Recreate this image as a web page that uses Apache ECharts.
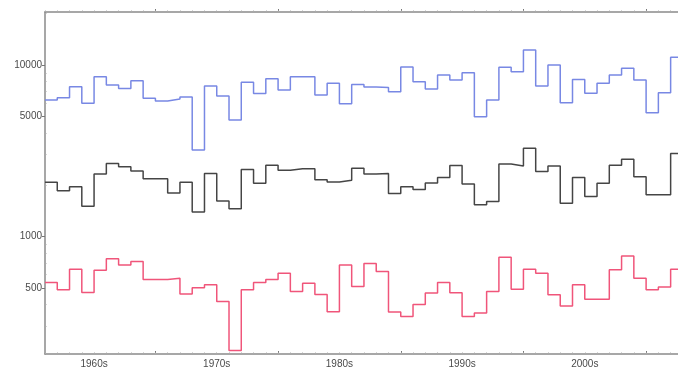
<!DOCTYPE html>
<html>
<head>
<meta charset="utf-8">
<script src="https://cdn.jsdelivr.net/npm/echarts@6/dist/echarts.min.js"></script>
<style>html,body{margin:0;padding:0;background:#fff}#c{width:678px;height:371px}</style>
</head>
<body>
<div id="c"></div>
<script>
const years = [1961,1962,1963,1964,1965,1966,1967,1968,1969,1970,1971,1972,1973,1974,1975,1976,1977,1978,1979,1980,1981,1982,1983,1984,1985,1986,1987,1988,1989,1990,1991,1992,1993,1994,1995,1996,1997,1998,1999,2000,2001,2002,2003,2004,2005,2006,2007,2008,2009,2010,2011,2012];
const blue = [6250,6450,7470,5980,8550,7650,7310,8100,6400,6170,6330,6510,3195,7545,6600,4780,7950,6820,8320,7145,8550,8550,6680,7820,5950,7700,7450,7400,6990,9730,7990,7260,8745,8175,9020,5000,6250,9700,9140,12230,7545,10000,6030,8250,6840,7820,8745,9570,8175,5270,6900,11090];
const black = [2070,1850,1950,1500,2310,2660,2550,2410,2170,2170,1790,2070,1390,2330,1610,1450,2460,2040,2600,2430,2480,2480,2140,2080,2130,2500,2310,2330,1780,1950,1880,2050,2210,2590,2020,1530,1600,2650,2580,3270,2390,2580,1560,2210,1710,2040,2600,2820,2230,1750,1750,3050];
const red = [538,488,644,470,635,741,682,713,561,561,570,462,502,522,417,216,488,539,561,610,477,533,459,364,682,511,694,624,362,341,401,467,538,469,341,357,477,756,492,644,610,456,393,522,430,430,638,769,570,488,506,644];
const yTickLabels = [500,1000,5000,10000];
const yMinorTicks = [300,400,600,700,800,900,2000,3000,4000,6000,7000,8000,9000,20000];
const xLabelPos = [1965,1975,1985,1995,2005];
const xLabels = ['1960s','1970s','1980s','1990s','2000s'];
const xMajorTicks = [1970,1980,1990,2000,2010];

function toSeries(vals){
  const d = years.map((y,i)=>[y, vals[i]]);
  d.push([years[years.length-1]+1, vals[vals.length-1]]);
  return d;
}
const axisColor = '#8a8a8a';
const xMin = 1961, xMax = 2012.6;
const chart = echarts.init(document.getElementById('c'));
const baseX = {type:'value', min:xMin, max:xMax, gridIndex:0, splitLine:{show:false}};
const labelFont = {color:'#4a4a4a', fontSize:10, fontFamily:'Liberation Sans'};
chart.setOption({
  animation:false,
  grid:{left:45, right:0, top:12, bottom:17},
  xAxis:[
    Object.assign({}, baseX, {position:'bottom',
      axisLine:{show:true, onZero:false, lineStyle:{color:axisColor, width:1.5}},
      axisTick:{show:true, inside:true, length:3, customValues:xMajorTicks, lineStyle:{color:'#777'}},
      axisLabel:Object.assign({show:true, customValues:xLabelPos, formatter:v=>xLabels[xLabelPos.indexOf(v)]||'', margin:5}, labelFont)}),
    Object.assign({}, baseX, {position:'bottom',
      axisLine:{show:false, onZero:false},
      axisTick:{show:true, inside:true, length:1.5, customValues:years, lineStyle:{color:'#aaa'}},
      axisLabel:{show:false}}),
    Object.assign({}, baseX, {position:'top',
      axisLine:{show:true, onZero:false, lineStyle:{color:axisColor, width:1.5}},
      axisTick:{show:true, inside:false, length:3, customValues:xMajorTicks, lineStyle:{color:'#777'}},
      axisLabel:{show:false}}),
    Object.assign({}, baseX, {position:'top',
      axisLine:{show:false, onZero:false},
      axisTick:{show:true, inside:false, length:1.5, customValues:years, lineStyle:{color:'#aaa'}},
      axisLabel:{show:false}})
  ],
  yAxis:[
    {type:'log', min:206, max:20400, position:'left',
      axisLine:{show:true, onZero:false, lineStyle:{color:axisColor, width:1.5}},
      splitLine:{show:false},
      axisTick:{show:true, length:3, customValues:yTickLabels, lineStyle:{color:'#777'}},
      axisLabel:Object.assign({show:true, customValues:yTickLabels, formatter:v=>String(v), margin:3}, labelFont)},
    {type:'log', min:206, max:20400, position:'left',
      axisLine:{show:false},
      splitLine:{show:false},
      axisTick:{show:true, inside:true, length:1.5, customValues:yMinorTicks, lineStyle:{color:'#aaa'}},
      axisLabel:{show:false}}
  ],
  series:[
    {type:'line', step:'end', data:toSeries(blue), symbol:'none', lineStyle:{color:'#7888e4', width:1.5}, clip:true},
    {type:'line', step:'end', data:toSeries(black), symbol:'none', lineStyle:{color:'#454545', width:1.5}, clip:true},
    {type:'line', step:'end', data:toSeries(red), symbol:'none', lineStyle:{color:'#f0557a', width:1.5}, clip:true}
  ]
});
</script>
</body>
</html>
